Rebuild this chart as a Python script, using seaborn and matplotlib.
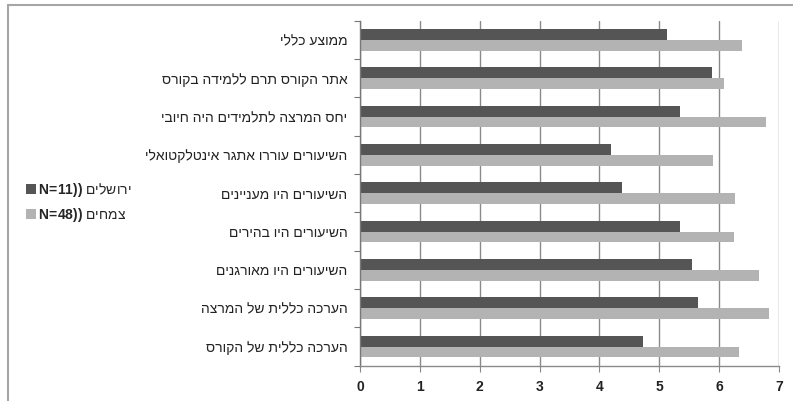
import matplotlib
matplotlib.use("Agg")
import matplotlib.pyplot as plt
import matplotlib.patches as mpatches
from matplotlib.ticker import FixedLocator
import seaborn as sns
import pandas as pd
import numpy as np

# ---- data ----
categories = [
    "ממוצע כללי",
    "אתר הקורס תרם ללמידה בקורס",
    "יחס המרצה לתלמידים היה חיובי",
    "השיעורים עוררו אתגר אינטלקטואלי",
    "השיעורים היו מעניינים",
    "השיעורים היו בהירים",
    "השיעורים היו מאורגנים",
    "הערכה כללית של המרצה",
    "הערכה כללית של הקורס",
]
series_names = ["ירושלים", "צמחים"]
series_n = ["11", "48"]
jerusalem = [5.13, 5.88, 5.35, 4.20, 4.37, 5.35, 5.55, 5.64, 4.72]
tzemach = [6.39, 6.08, 6.79, 5.90, 6.26, 6.24, 6.67, 6.83, 6.34]
x_ticks = [0, 1, 2, 3, 4, 5, 6, 7]
colors = ["#555555", "#b3b3b3"]


def visual(s):
    # matplotlib has no bidi support: give Hebrew in visual order
    return s[::-1]


sns.set_theme(style="white")
plt.rcParams["font.family"] = ["Liberation Sans", "DejaVu Sans"]
plt.rcParams["mathtext.fontset"] = "custom"
plt.rcParams["mathtext.bf"] = "Liberation Sans:bold"
plt.rcParams["mathtext.rm"] = "Liberation Sans"

rows = []
for c, a, b in zip(categories, jerusalem, tzemach):
    rows.append({"cat": visual(c), "series": series_names[0], "value": a})
    rows.append({"cat": visual(c), "series": series_names[1], "value": b})
df = pd.DataFrame(rows)

fig = plt.figure(figsize=(7.93, 4.01), dpi=100)
ax = fig.add_axes([360 / 793, 1 - 365.7 / 401, (779 - 360) / 793, (365.7 - 20.7) / 401])

sns.barplot(data=df, y="cat", x="value", hue="series", orient="h",
            palette=colors, width=0.56, ax=ax, legend=False,
            order=[visual(c) for c in categories], hue_order=series_names,
            saturation=1, edgecolor="none")

ax.set_xlim(0, 7)
ax.set_ylim(len(categories) - 0.5, -0.5)
ax.set_xlabel("")
ax.set_ylabel("")
ax.xaxis.set_major_locator(FixedLocator(x_ticks))
ax.set_xticklabels([str(t) for t in x_ticks], fontsize=10, fontweight="bold", color="#222222")
ax.grid(axis="x", color="#8a8a8a", linewidth=1.0)
ax.set_axisbelow(True)
for sp in ["top", "right"]:
    ax.spines[sp].set_visible(False)
ax.spines["left"].set_color("#777777")
ax.spines["bottom"].set_color("#8a8a8a")
ax.spines["left"].set_linewidth(1.0)
ax.spines["bottom"].set_linewidth(1.0)

ax.tick_params(axis="y", which="major", length=0, pad=9, labelsize=10, labelcolor="#222222")
ax.yaxis.set_minor_locator(FixedLocator(np.arange(-0.5, len(categories), 1.0)))
ax.tick_params(axis="y", which="minor", length=4, width=0.8, color="#777777", direction="out", left=True)
ax.tick_params(axis="x", which="major", length=4, width=0.8, color="#8a8a8a", direction="out", bottom=True, pad=6)

# legend
handles = [mpatches.Patch(facecolor=colors[i], edgecolor="none") for i in range(2)]
labels = [r"$\mathbf{N\!=\!" + series_n[i] + r"))}$ " + visual(series_names[i]) for i in range(2)]
fig.legend(handles, labels, loc="upper left", bbox_to_anchor=(20 / 793, 1 - 175 / 401),
           frameon=False, fontsize=10, handlelength=0.75, handleheight=0.75,
           handletextpad=0.15, labelspacing=0.5, borderaxespad=0)

# outer chart border
border = mpatches.Rectangle((8 / 793, -0.05), 1.2, 1.05 - 5 / 401, transform=fig.transFigure,
                            fill=False, edgecolor="#a6a6a6", linewidth=1.5, clip_on=False)
fig.patches.append(border)

fig.savefig("out.png", dpi=100)
